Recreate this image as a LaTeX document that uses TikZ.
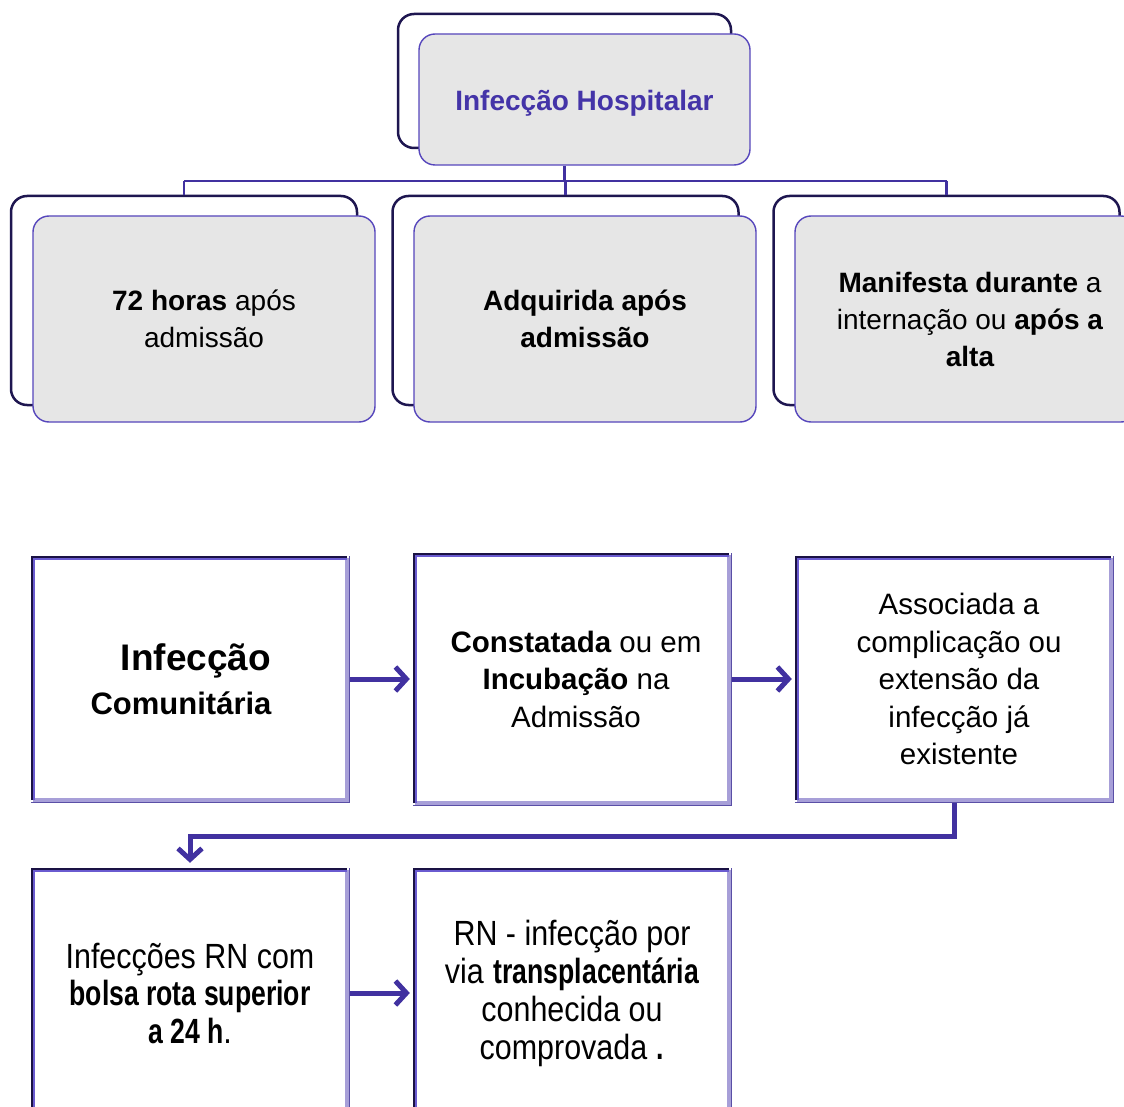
\documentclass[tikz,border=0pt]{standalone}
\usepackage{fontspec}
\setmainfont{Liberation Sans}
\usetikzlibrary{arrows.meta,calc}
\definecolor{lnpurple}{HTML}{4131A0}
\definecolor{txtpurple}{HTML}{4434A8}
\definecolor{frontborder}{HTML}{5646BC}
\definecolor{frontfill}{HTML}{E6E6E6}
\definecolor{backborder}{HTML}{1E1650}
\definecolor{bevdark}{HTML}{1A1244}
\definecolor{bevinner}{HTML}{6A5BD0}
\definecolor{bevlight}{HTML}{A79FD8}
\definecolor{bevouter}{HTML}{5A4FA6}
\newcommand\nr[1]{\scalebox{0.87}[1]{#1}}
\newcommand\nbf[1]{\scalebox{0.76}[1]{\bfseries #1}}
\newcommand\bevelframe[1]{%
  \draw[bevlight,line width=4pt] (#1.south west) -- (#1.south east) -- (#1.north east);
  \draw[bevouter,line width=1.2pt] ([xshift=-2pt,yshift=-2pt]#1.south west) -- ([xshift=2pt,yshift=-2pt]#1.south east) -- ([xshift=2pt,yshift=2pt]#1.north east);
  \draw[bevdark,line width=4pt] (#1.south west) -- (#1.north west) -- (#1.north east);
  \draw[bevinner,line width=1.4pt] ([xshift=1.3pt]#1.south west) -- ([xshift=1.3pt,yshift=-1.3pt]#1.north west) -- ([yshift=-1.3pt]#1.north east);
}
\begin{document}
\begin{tikzpicture}[x=1pt,y=-1pt,
  backbox/.style={draw=backborder,line width=2.5pt,fill=white,rounded corners=16pt,inner sep=0pt,minimum width=346pt,minimum height=209pt},
  frontbox/.style={draw=frontborder,line width=1.4pt,fill=frontfill,rounded corners=16pt,inner sep=0pt,align=center,minimum width=342pt,minimum height=206pt,font=\fontsize{28}{37}\selectfont},
  flatbox/.style={fill=white,inner sep=0pt,minimum width=314pt,minimum height=242pt,align=center,font=\fontsize{29.5}{37.5}\selectfont},
  bus/.style={draw=lnpurple,line width=2.5pt},
  flowarrow/.style={draw=lnpurple,line width=5pt,-{Straight Barb[length=11pt,width=24pt]},shorten >=5pt}]
\path[use as bounding box,fill=white] (0,0) rectangle (1124,1107);

% ---------- top hierarchy ----------
\node[backbox,minimum width=333pt,minimum height=134pt] (topback) at (564.5,81) {};
\node[frontbox,minimum width=331pt,minimum height=131pt,text=txtpurple,font=\bfseries\fontsize{28}{37}\selectfont,text height=28pt] (top) at (584.5,99.5) {Infecção Hospitalar};

\coordinate (busy) at (0,181);
\node[backbox] (c1back) at (184,300.5) {};
\node[backbox] (c2back) at (565.5,300.5) {};
\node[backbox] (c3back) at (946.5,300.5) {};

\draw[bus] (topback.south |- top.south) -- (topback.south |- busy);
\draw[bus] (c1back.north |- busy) -- (c3back.north |- busy);
\draw[bus] (c1back.north |- busy) -- (c1back.north);
\draw[bus] (c2back.north |- busy) -- (c2back.north);
\draw[bus] (c3back.north |- busy) -- (c3back.north);

\node[frontbox] (c1) at (204,319) {{\bfseries 72 horas} após\\admissão};
\node[frontbox] (c2) at (585,319) {{\bfseries Adquirida após}\\{\bfseries admissão}};
\node[frontbox] (c3) at (966,319) {\hspace*{8pt}{\bfseries Manifesta durante} a\\\hspace*{8pt}internação ou {\bfseries após a}\\\hspace*{8pt}{\bfseries alta}};

% ---------- flow ----------
\node[flatbox] (A) at (190,679) {\fontsize{37}{45}\selectfont\bfseries\hspace*{12pt}Infecção\\[6pt]\fontsize{31}{45}\selectfont\bfseries Comunitária\hspace*{18pt}};
\node[flatbox,minimum height=248pt] (B) at (572,679) {\hspace*{8pt}{\bfseries Constatada} ou em\\\hspace*{8pt}{\bfseries Incubação} na\\\hspace*{8pt}Admissão};
\node[flatbox] (C) at (954,679) {\hspace*{10pt}Associada a\\\hspace*{10pt}complicação ou\\\hspace*{10pt}extensão da\\\hspace*{10pt}infecção já\\\hspace*{10pt}existente};
\node[flatbox,minimum height=246pt,font=\fontsize{35}{37.5}\selectfont] (D) at (190,993) {\nr{Infecções RN com}\\\nbf{bolsa rota superior}\\\nbf{a 24 h}\nr{.}};
\node[flatbox,minimum height=246pt,font=\fontsize{35}{38}\selectfont] (E) at (572,993) {\nr{RN - infecção por}\\\nr{via} \nbf{transplacentária}\\\nr{conhecida ou}\\\nr{comprovada} \nbf{.}};

\draw[flowarrow] (A) -- (B);
\draw[flowarrow] (B) -- (C);
\draw[flowarrow,shorten >=7pt] (C.south) -- ++(0,36) -| (D.north);
\draw[flowarrow] (D) -- (E);

\bevelframe{A}
\bevelframe{B}
\bevelframe{C}
\bevelframe{D}
\bevelframe{E}
\end{tikzpicture}
\end{document}
